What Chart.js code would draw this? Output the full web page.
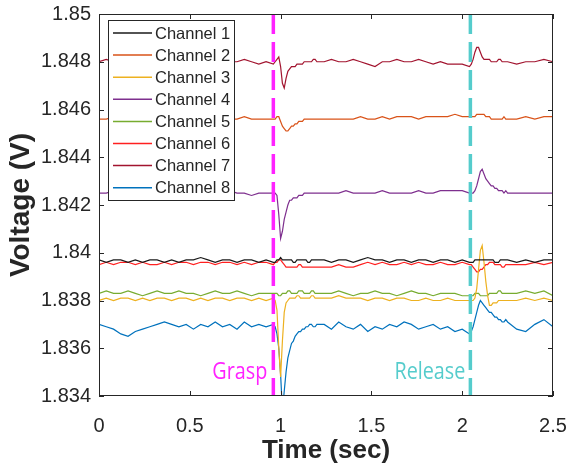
<!DOCTYPE html>
<html>
<head>
<meta charset="utf-8">
<script src="https://cdn.jsdelivr.net/npm/chart.js@4.4.1/dist/chart.umd.min.js"></script>
<style>
    html, body { margin: 0; padding: 0; background: #fff; }
</style>
</head>
<body>
<canvas id="voltage_chart" width="569" height="466"></canvas>
<script>
// time axis (sec), finer around grasp / release
const time = [
    0, 0.04, 0.08, 0.12, 0.16, 0.2, 0.24, 0.28, 0.32, 0.36, 0.4, 0.44, 0.48, 0.52, 0.56, 0.6, 0.64, 0.68, 0.72, 0.76, 0.8, 0.84, 0.88, 0.92, 0.96,
    0.97, 0.98, 0.99, 1, 1.01, 1.02, 1.03, 1.04, 1.05, 1.06, 1.07, 1.08, 1.09, 1.1, 1.11, 1.12, 1.13, 1.14, 1.15, 1.16, 1.17, 1.18, 1.19, 1.2,
    1.24, 1.28, 1.32, 1.36, 1.4, 1.44, 1.48, 1.52, 1.56, 1.6, 1.64, 1.68, 1.72, 1.76, 1.8, 1.84, 1.88, 1.92, 1.96, 2, 2.04,
    2.05, 2.06, 2.07, 2.08, 2.09, 2.1, 2.11, 2.12, 2.13, 2.14, 2.15, 2.16, 2.17, 2.18, 2.19, 2.2, 2.21, 2.22, 2.23, 2.24, 2.25,
    2.3, 2.35, 2.4, 2.45, 2.5
];

const channel1 = [
    1.8397, 1.8396, 1.8397, 1.8397, 1.8396, 1.8397, 1.8396, 1.8397, 1.8397, 1.8396, 1.8397, 1.8396, 1.8397, 1.8397, 1.8398, 1.8397, 1.8396, 1.8397, 1.8397, 1.8396, 1.8397, 1.8397, 1.8396, 1.8397, 1.8396,
    1.8396, 1.8397, 1.8397, 1.8398, 1.8397, 1.8397, 1.8397, 1.8397, 1.8397, 1.8397, 1.8396, 1.8396, 1.8397, 1.8397, 1.8397, 1.8397, 1.8397, 1.8397, 1.8396, 1.8396, 1.8397, 1.8397, 1.8397, 1.8397,
    1.8397, 1.8396, 1.8397, 1.8397, 1.8396, 1.8397, 1.8398, 1.8397, 1.8397, 1.8396, 1.8397, 1.8397, 1.8396, 1.8397, 1.8397, 1.8396, 1.8397, 1.8397, 1.8396, 1.8397, 1.8396,
    1.8396, 1.8396, 1.8397, 1.8397, 1.8397, 1.8397, 1.8397, 1.8397, 1.8397, 1.8397, 1.8397, 1.8397, 1.8397, 1.8396, 1.8396, 1.8396, 1.8397, 1.8397, 1.8397, 1.8397, 1.8397,
    1.8396, 1.8397, 1.8396, 1.8397, 1.8397
];
const channel2 = [
    1.8456, 1.8456, 1.8457, 1.8456, 1.8456, 1.8456, 1.8457, 1.8456, 1.8456, 1.8457, 1.8456, 1.8456, 1.8457, 1.8456, 1.8456, 1.8456, 1.8457, 1.8456, 1.8456, 1.8456, 1.8457, 1.8456, 1.8456, 1.8456, 1.8456,
    1.8456, 1.8457, 1.8457, 1.8455, 1.8453, 1.8452, 1.8451, 1.8451, 1.8452, 1.8453, 1.8453, 1.8454, 1.8454, 1.8455, 1.8455, 1.8455, 1.8456, 1.8456, 1.8456, 1.8456, 1.8456, 1.8456, 1.8456, 1.8456,
    1.8456, 1.8456, 1.8456, 1.8456, 1.8456, 1.8457, 1.8456, 1.8456, 1.8457, 1.8456, 1.8457, 1.8457, 1.8457, 1.8456, 1.8457, 1.8457, 1.8457, 1.8457, 1.8458, 1.8457, 1.8457,
    1.8457, 1.8457, 1.8457, 1.8458, 1.8458, 1.8458, 1.8458, 1.8458, 1.8457, 1.8457, 1.8457, 1.8456, 1.8456, 1.8456, 1.8456, 1.8456, 1.8456, 1.8456, 1.8457, 1.8456, 1.8456,
    1.8456, 1.8457, 1.8456, 1.8457, 1.8457
];
const channel3 = [
    1.8380, 1.8381, 1.8380, 1.8381, 1.8381, 1.8380, 1.8381, 1.8380, 1.8381, 1.8381, 1.8380, 1.8381, 1.8381, 1.8380, 1.8381, 1.8380, 1.8381, 1.8381, 1.8380, 1.8381, 1.8381, 1.8380, 1.8381, 1.8380, 1.8381,
    1.8380, 1.8376, 1.8360, 1.8348, 1.8363, 1.8375, 1.8379, 1.8380, 1.8381, 1.8381, 1.8381, 1.8381, 1.8382, 1.8382, 1.8381, 1.8381, 1.8381, 1.8381, 1.8381, 1.8381, 1.8382, 1.8382, 1.8381, 1.8381,
    1.8381, 1.8381, 1.8382, 1.8381, 1.8381, 1.8381, 1.8380, 1.8381, 1.8381, 1.8380, 1.8381, 1.8381, 1.8380, 1.8380, 1.8381, 1.8380, 1.8380, 1.8381, 1.8380, 1.8380, 1.8380,
    1.8380, 1.8380, 1.8381, 1.8385, 1.8393, 1.8401, 1.8403, 1.8396, 1.8388, 1.8382, 1.8378, 1.8378, 1.8379, 1.8379, 1.8379, 1.8380, 1.8380, 1.8380, 1.8380, 1.8380, 1.8380,
    1.8380, 1.8381, 1.8380, 1.8381, 1.8380
];
const channel4 = [
    1.8425, 1.8425, 1.8426, 1.8425, 1.8425, 1.8425, 1.8425, 1.8426, 1.8425, 1.8425, 1.8425, 1.8425, 1.8426, 1.8425, 1.8425, 1.8425, 1.8425, 1.8425, 1.8426, 1.8425, 1.8425, 1.8424, 1.8425, 1.8425, 1.8425,
    1.8425, 1.8424, 1.8416, 1.8406, 1.8409, 1.8414, 1.8417, 1.8420, 1.8422, 1.8422, 1.8423, 1.8423, 1.8423, 1.8424, 1.8424, 1.8424, 1.8425, 1.8425, 1.8425, 1.8425, 1.8425, 1.8425, 1.8425, 1.8425,
    1.8425, 1.8425, 1.8425, 1.8426, 1.8425, 1.8425, 1.8425, 1.8425, 1.8426, 1.8425, 1.8425, 1.8425, 1.8425, 1.8426, 1.8425, 1.8425, 1.8426, 1.8426, 1.8426, 1.8426, 1.8425,
    1.8425, 1.8425, 1.8426, 1.8428, 1.8431, 1.8434, 1.8435, 1.8433, 1.8431, 1.8430, 1.8429, 1.8428, 1.8428, 1.8427, 1.8427, 1.8426, 1.8426, 1.8426, 1.8425, 1.8426, 1.8425,
    1.8425, 1.8425, 1.8425, 1.8425, 1.8425
];
const channel5 = [
    1.8383, 1.8384, 1.8383, 1.8383, 1.8384, 1.8383, 1.8382, 1.8383, 1.8384, 1.8383, 1.8383, 1.8384, 1.8383, 1.8383, 1.8382, 1.8383, 1.8384, 1.8383, 1.8383, 1.8384, 1.8383, 1.8382, 1.8383, 1.8383, 1.8383,
    1.8383, 1.8383, 1.8382, 1.8382, 1.8383, 1.8383, 1.8383, 1.8384, 1.8384, 1.8383, 1.8383, 1.8383, 1.8383, 1.8384, 1.8384, 1.8384, 1.8383, 1.8383, 1.8383, 1.8383, 1.8384, 1.8384, 1.8383, 1.8383,
    1.8383, 1.8383, 1.8384, 1.8383, 1.8382, 1.8383, 1.8383, 1.8384, 1.8383, 1.8383, 1.8382, 1.8383, 1.8384, 1.8383, 1.8383, 1.8382, 1.8383, 1.8383, 1.8383, 1.8382, 1.8382,
    1.8382, 1.8382, 1.8383, 1.8383, 1.8383, 1.8382, 1.8382, 1.8382, 1.8382, 1.8382, 1.8383, 1.8383, 1.8383, 1.8383, 1.8383, 1.8384, 1.8384, 1.8383, 1.8383, 1.8383, 1.8383,
    1.8383, 1.8384, 1.8383, 1.8384, 1.8382
];
const channel6 = [
    1.8395, 1.8396, 1.8395, 1.8396, 1.8396, 1.8395, 1.8396, 1.8395, 1.8395, 1.8396, 1.8395, 1.8396, 1.8396, 1.8395, 1.8396, 1.8396, 1.8395, 1.8396, 1.8396, 1.8395, 1.8396, 1.8395, 1.8396, 1.8396, 1.8395,
    1.8396, 1.8396, 1.8397, 1.8397, 1.8396, 1.8395, 1.8394, 1.8394, 1.8394, 1.8394, 1.8394, 1.8394, 1.8394, 1.8395, 1.8395, 1.8394, 1.8394, 1.8394, 1.8394, 1.8394, 1.8394, 1.8394, 1.8394, 1.8394,
    1.8394, 1.8394, 1.8395, 1.8394, 1.8394, 1.8395, 1.8396, 1.8395, 1.8396, 1.8395, 1.8395, 1.8396, 1.8395, 1.8396, 1.8395, 1.8395, 1.8396, 1.8395, 1.8395, 1.8396, 1.8395,
    1.8395, 1.8394, 1.8393, 1.8392, 1.8392, 1.8393, 1.8393, 1.8394, 1.8395, 1.8395, 1.8396, 1.8396, 1.8396, 1.8395, 1.8395, 1.8395, 1.8395, 1.8394, 1.8394, 1.8395, 1.8395,
    1.8395, 1.8395, 1.8396, 1.8395, 1.8396
];
const channel7 = [
    1.8480, 1.8481, 1.8480, 1.8481, 1.8480, 1.8479, 1.8480, 1.8481, 1.8480, 1.8480, 1.8481, 1.8480, 1.8479, 1.8480, 1.8481, 1.8480, 1.8480, 1.8481, 1.8480, 1.8480, 1.8481, 1.8480, 1.8479, 1.8480, 1.8479,
    1.8480, 1.8481, 1.8482, 1.8478, 1.8471, 1.8469, 1.8473, 1.8476, 1.8477, 1.8478, 1.8478, 1.8478, 1.8479, 1.8479, 1.8479, 1.8479, 1.8480, 1.8480, 1.8480, 1.8480, 1.8480, 1.8481, 1.8481, 1.8480,
    1.8480, 1.8481, 1.8480, 1.8480, 1.8481, 1.8480, 1.8479, 1.8478, 1.8480, 1.8480, 1.8481, 1.8480, 1.8480, 1.8481, 1.8480, 1.8479, 1.8480, 1.8479, 1.8479, 1.8479, 1.8478,
    1.8479, 1.8481, 1.8484, 1.8486, 1.8486, 1.8484, 1.8482, 1.8481, 1.8481, 1.8481, 1.8481, 1.8480, 1.8480, 1.8480, 1.8480, 1.8481, 1.8481, 1.8480, 1.8480, 1.8480, 1.8480,
    1.8479, 1.8480, 1.8480, 1.8481, 1.8480
];
const channel8 = [
    1.8370, 1.8369, 1.8368, 1.8366, 1.8365, 1.8367, 1.8368, 1.8369, 1.8370, 1.8371, 1.8370, 1.8369, 1.8370, 1.8368, 1.8370, 1.8369, 1.8371, 1.8369, 1.8370, 1.8368, 1.8371, 1.8369, 1.8370, 1.8369, 1.8370,
    1.8369, 1.8366, 1.8360, 1.8349, 1.8334, 1.8342, 1.8350, 1.8356, 1.8359, 1.8362, 1.8363, 1.8365, 1.8366, 1.8367, 1.8367, 1.8368, 1.8368, 1.8369, 1.8369, 1.8370, 1.8370, 1.8369, 1.8369, 1.8370,
    1.8370, 1.8368, 1.8371, 1.8369, 1.8368, 1.8370, 1.8367, 1.8369, 1.8368, 1.8370, 1.8369, 1.8371, 1.8370, 1.8368, 1.8369, 1.8370, 1.8368, 1.8369, 1.8367, 1.8368, 1.8366,
    1.8367, 1.8369, 1.8372, 1.8375, 1.8378, 1.8380, 1.8379, 1.8378, 1.8377, 1.8376, 1.8375, 1.8375, 1.8374, 1.8373, 1.8373, 1.8372, 1.8372, 1.8371, 1.8371, 1.8372, 1.8371,
    1.8368, 1.8367, 1.8370, 1.8372, 1.8369
];

const channels = [channel1, channel2, channel3, channel4, channel5, channel6, channel7, channel8];
const channelNames = ['Channel 1', 'Channel 2', 'Channel 3', 'Channel 4', 'Channel 5', 'Channel 6', 'Channel 7', 'Channel 8'];
const channelColors = ['#1a1a1a', '#D95319', '#EDB120', '#7E2F8E', '#77AC30', '#FF2020', '#A2142F', '#0072BD'];

const xTicks = [0, 0.5, 1, 1.5, 2, 2.5];
const yTicks = [1.834, 1.836, 1.838, 1.84, 1.842, 1.844, 1.846, 1.848, 1.85];

// event markers
const graspTime = 0.96;
const releaseTime = 2.045;

const AXIS_COLOR = '#262626';
const FONT = '"Liberation Sans", Arial, sans-serif';

// 박스 + 안쪽 눈금 + 범례 + 이벤트 글자
const framePlugin = {
    id: 'frame',
    afterDatasetsDraw(chart) {
        const { ctx, chartArea: a, scales: { x, y } } = chart;
        ctx.save();

        // Grasp / Release text (narrow, Calibri-like)
        ctx.font = '23px "Open Sans", sans-serif';
        ctx.textAlign = 'right';
        ctx.textBaseline = 'alphabetic';
        const drawNarrow = (text, px, py, color) => {
            ctx.save();
            ctx.translate(px, py);
            ctx.scale(0.86, 1);
            ctx.fillStyle = color;
            ctx.fillText(text, 0, 0);
            ctx.restore();
        };
        drawNarrow('Grasp', x.getPixelForValue(graspTime) - 6, a.bottom - 17, '#FF22FF');
        drawNarrow('Release', x.getPixelForValue(releaseTime) - 5, a.bottom - 17, '#55CCCC');

        // legend
        const lx = 108.5, ly = 20.5, lw = 126, lh = 180;
        ctx.fillStyle = '#fff';
        ctx.fillRect(lx, ly, lw, lh);
        ctx.strokeStyle = AXIS_COLOR;
        ctx.lineWidth = 1;
        ctx.strokeRect(lx, ly, lw, lh);
        ctx.font = '16.5px ' + FONT;
        ctx.textAlign = 'left';
        ctx.textBaseline = 'middle';
        channelNames.forEach((name, i) => {
            const ry = 33 + i * 22.1;
            ctx.strokeStyle = channelColors[i];
            ctx.lineWidth = 1.5;
            ctx.beginPath();
            ctx.moveTo(113, ry);
            ctx.lineTo(152, ry);
            ctx.stroke();
            ctx.fillStyle = AXIS_COLOR;
            ctx.fillText(name, 155, ry + 1);
        });

        // axes box
        ctx.strokeStyle = AXIS_COLOR;
        ctx.lineWidth = 1;
        ctx.strokeRect(a.left + 0.5, a.top + 0.5, a.right - a.left - 1, a.bottom - a.top - 1);
        ctx.beginPath();
        xTicks.forEach(v => {
            const px = Math.round(x.getPixelForValue(v)) + 0.5;
            ctx.moveTo(px, a.bottom); ctx.lineTo(px, a.bottom - 5);
            ctx.moveTo(px, a.top); ctx.lineTo(px, a.top + 5);
        });
        yTicks.forEach(v => {
            const py = Math.round(y.getPixelForValue(v)) + 0.5;
            ctx.moveTo(a.left, py); ctx.lineTo(a.left + 5, py);
            ctx.moveTo(a.right, py); ctx.lineTo(a.right - 5, py);
        });
        ctx.stroke();
        ctx.restore();
    }
};

function fnVoltageChart() {
    const yMin = yTicks[0];
    const yMax = yTicks[yTicks.length - 1];
    const datasets = channels.map((vals, i) => ({
        label: channelNames[i],
        data: time.map((t, k) => ({ x: t, y: vals[k] })),
        borderColor: channelColors[i],
        borderWidth: 1.2,
        pointRadius: 0,
        order: 1
    }));
    datasets.push({
        label: 'Grasp',
        data: [{ x: graspTime, y: yMax }, { x: graspTime, y: yMin }],
        borderColor: '#FF22FF',
        borderWidth: 3.5,
        borderDash: [20, 8],
        pointRadius: 0,
        order: 0
    });
    datasets.push({
        label: 'Release',
        data: [{ x: releaseTime, y: yMax }, { x: releaseTime, y: yMin }],
        borderColor: '#55CCCC',
        borderWidth: 3.5,
        borderDash: [20, 8],
        pointRadius: 0,
        order: 0
    });

    const ctx = document.getElementById('voltage_chart').getContext('2d');
    new Chart(ctx, {
        type: 'line',
        data: { datasets: datasets },
        options: {
            responsive: false,
            animation: false,
            devicePixelRatio: 1,
            layout: { padding: { top: 14, right: 16, bottom: 0, left: 0 } },
            plugins: {
                legend: { display: false },
                tooltip: { enabled: false }
            },
            scales: {
                x: {
                    type: 'linear',
                    min: 0,
                    max: 2.5,
                    afterBuildTicks: s => { s.ticks = xTicks.map(v => ({ value: v })); },
                    afterFit: s => { s.height = 70; s.paddingLeft = 0; s.paddingRight = 0; },
                    grid: { display: false, drawTicks: false },
                    border: { display: false },
                    ticks: {
                        color: AXIS_COLOR,
                        font: { size: 20, family: FONT },
                        padding: 18,
                        maxRotation: 0,
                        callback: v => String(+v.toFixed(1))
                    },
                    title: {
                        display: true,
                        text: 'Time (sec)',
                        color: AXIS_COLOR,
                        font: { size: 26, weight: 'bold', family: FONT },
                        padding: { top: 0, bottom: 0 }
                    }
                },
                y: {
                    min: yMin,
                    max: yMax,
                    afterBuildTicks: s => { s.ticks = yTicks.map(v => ({ value: v })); },
                    afterFit: s => { s.width = 99; s.paddingTop = 0; s.paddingBottom = 0; },
                    grid: { display: false, drawTicks: false },
                    border: { display: false },
                    ticks: {
                        color: AXIS_COLOR,
                        font: { size: 20, family: FONT },
                        padding: 8,
                        callback: v => String(+v.toFixed(3))
                    },
                    title: {
                        display: true,
                        text: 'Voltage (V)',
                        color: AXIS_COLOR,
                        font: { size: 28, weight: 'bold', family: FONT },
                        padding: { top: 4, bottom: 0 }
                    }
                }
            }
        },
        plugins: [framePlugin]
    });
}

fnVoltageChart();
</script>
</body>
</html>
